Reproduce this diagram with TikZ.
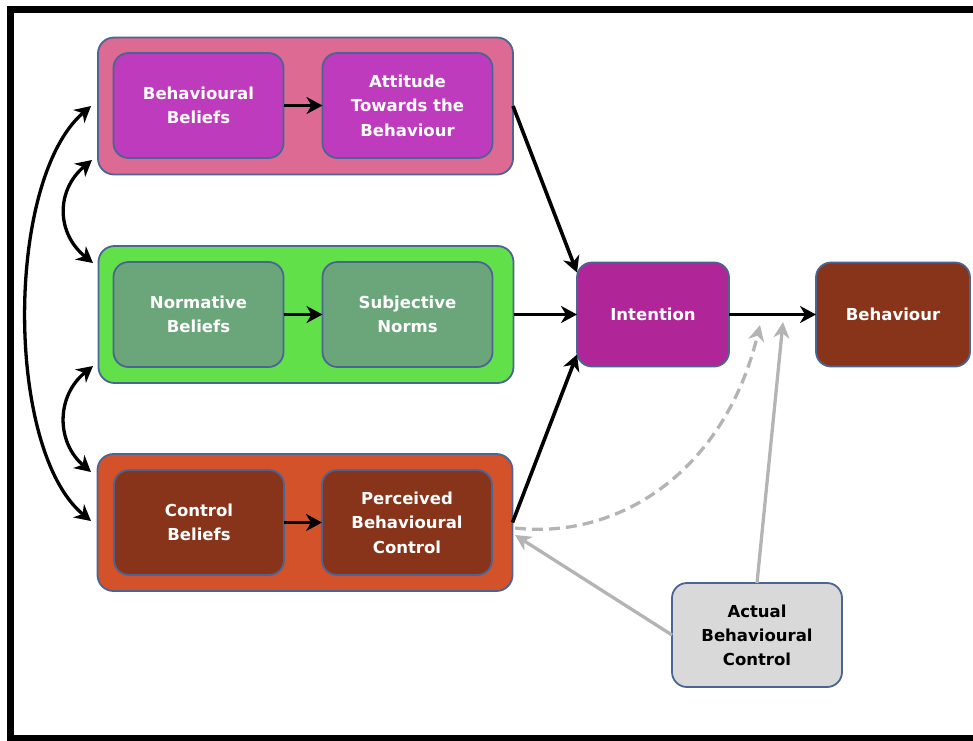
\documentclass[tikz,border=0pt]{standalone}
\usepackage{fontspec}
\setmainfont{DejaVu Sans}
\usetikzlibrary{arrows.meta,calc}
\definecolor{edgeblue}{HTML}{4A6494}
\definecolor{pinkouter}{HTML}{DC6A93}
\definecolor{magentainner}{HTML}{BE3BBE}
\definecolor{intentfill}{HTML}{B02598}
\definecolor{greenouter}{HTML}{62E04A}
\definecolor{greeninner}{HTML}{6BA67A}
\definecolor{orangeouter}{HTML}{D4522A}
\definecolor{browninner}{HTML}{87341A}
\definecolor{greybox}{HTML}{D9D9D9}
\definecolor{greyline}{HTML}{B4B4B4}

\begin{document}
\begin{tikzpicture}[x=1pt,y=-1pt,
  group/.style={draw=edgeblue, line width=1.8pt, rounded corners=16pt,
    minimum width=415pt, minimum height=137pt, inner sep=0pt, outer sep=0pt},
  box/.style={draw=edgeblue, line width=1.8pt, rounded corners=15pt,
    inner sep=0pt, outer sep=0pt, minimum width=170pt, minimum height=105pt,
    text=white, align=center, font=\fontsize{16.5}{24.5}\selectfont\bfseries},
  arr/.style={draw=black, line width=3.6pt, -{Stealth[length=16pt,width=17pt,inset=5pt]}},
  dbl/.style={draw=black, line width=3.3pt,
    {Stealth[length=16pt,width=17pt,inset=5pt]}-{Stealth[length=16pt,width=17pt,inset=5pt]}},
  garr/.style={draw=greyline, line width=3.3pt, -{Stealth[length=16pt,width=16pt,inset=5pt]}},
]
\useasboundingbox (0,0) rectangle (973,740);

% outer frame
\draw[line width=7.5pt] (10.5,9.5) rectangle (978,739);

% grouping panels
\node[group, fill=pinkouter]   (attgrp)  at (305.5,106)   {};
\node[group, fill=greenouter]  (normgrp) at (306,314.5)   {};
\node[group, fill=orangeouter] (ctrlgrp) at (305,522.5)   {};

% belief / construct boxes
\node[box, fill=magentainner] (bb)  at (198.5,105.5) {Behavioural\\Beliefs};
\node[box, fill=magentainner] (att) at (407.5,105.5) {Attitude\\Towards the\\Behaviour};
\node[box, fill=greeninner]   (nb)  at (198.5,314.5) {Normative\\Beliefs};
\node[box, fill=greeninner]   (sn)  at (407.5,314.5) {Subjective\\Norms};
\node[box, fill=browninner]   (cb)  at (199,522.5)   {Control\\Beliefs};
\node[box, fill=browninner]   (pbc) at (407,522.5)   {Perceived\\Behavioural\\Control};

\node[box, fill=intentfill, minimum width=152pt, minimum height=104pt] (int) at (653,314.5) {Intention};
\node[box, fill=browninner, minimum width=154pt, minimum height=104pt] (beh) at (893,314.5) {Behaviour};
\node[box, fill=greybox, text=black, minimum width=170pt, minimum height=104pt,
      font=\fontsize{16.5}{24}\selectfont\bfseries] (abc) at (757,635) {Actual\\Behavioural\\Control};

% belief -> construct
\draw[arr] (bb) -- (att);
\draw[arr] (nb) -- (sn);
\draw[arr] (cb) -- (pbc);

% constructs -> intention -> behaviour
\draw[arr] (attgrp.east) -- ($(int.north west)+(0,10)$);
\draw[arr] (normgrp.east) -- (int.west);
\draw[arr] (ctrlgrp.east) -- ($(int.south west)+(0,-12)$);
\draw[arr] (int) -- (beh);

% correlations between belief groups
\coordinate (cA) at (91,106);
\coordinate (cB) at (92,160);
\coordinate (cC) at (93,263);
\coordinate (cD) at (93,366);
\coordinate (cE) at (91,472);
\coordinate (cF) at (91,521);
\draw[dbl] (cA) .. controls (5,180) and (5,450) .. (cF);
\draw[dbl] (cB) .. controls (56,190) and (56,233) .. (cC);
\draw[dbl] (cD) .. controls (56,396) and (56,442) .. (cE);

% actual behavioural control
\coordinate (j1) at (760,325);
\coordinate (j2) at (783,322);
\coordinate (pbcin)  at (515,535);
\coordinate (pbcout) at (515,528);
\draw[garr] (abc.north) -- (j2);
\draw[garr] (abc.west) -- (pbcin);
\draw[garr, dashed, dash pattern=on 11pt off 6pt] (pbcout) .. controls (620,540) and (725,470) .. (j1);
\end{tikzpicture}
\end{document}
